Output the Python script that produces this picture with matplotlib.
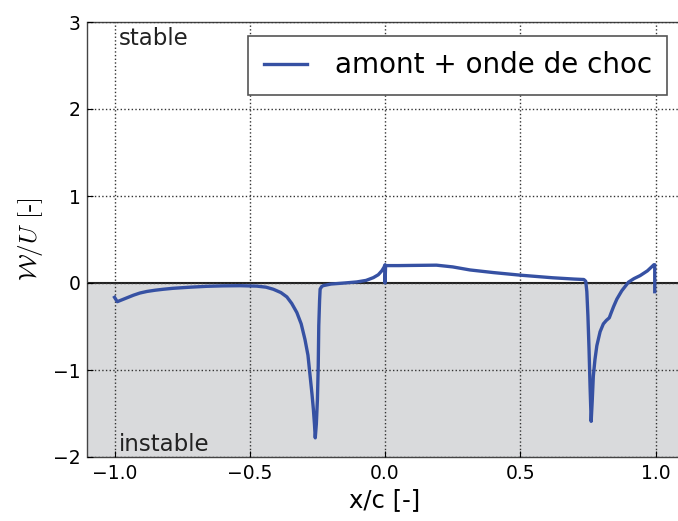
import matplotlib
matplotlib.use("Agg")
import matplotlib.pyplot as plt

plt.rcParams['mathtext.fontset'] = 'cm'
plt.rcParams['font.family'] = ['DejaVu Sans']

# Data
x_vals = [-1.0, -1.0, -0.99, -0.97, -0.95, -0.93, -0.906, -0.88, -0.85, -0.82, -0.784, -0.72,
          -0.659, -0.6, -0.536, -0.474, -0.44, -0.413, -0.385, -0.363, -0.345, -0.326, -0.31,
          -0.296, -0.285, -0.277, -0.27, -0.265, -0.261, -0.258, -0.254, -0.250, -0.247,
          -0.245, -0.242, -0.240, -0.234, -0.228, -0.2, -0.15, -0.105, -0.07, -0.043,
          -0.025, -0.012, -0.004, 0.0, 0.0, 0.002, 0.05, 0.1, 0.19, 0.25, 0.314, 0.4, 0.5,
          0.62, 0.70, 0.735, 0.742, 0.746, 0.750, 0.754, 0.758, 0.762, 0.766, 0.770, 0.776,
          0.783, 0.795, 0.807, 0.818, 0.829, 0.835, 0.845, 0.857, 0.875, 0.90, 0.92, 0.943,
          0.97, 0.994, 0.997, 0.997]
y_vals = [-0.165, -0.165, -0.215, -0.19, -0.165, -0.14, -0.115, -0.097, -0.083, -0.072,
          -0.061, -0.048, -0.038, -0.033, -0.031, -0.036, -0.048, -0.072, -0.11, -0.160,
          -0.235, -0.34, -0.47, -0.65, -0.83, -1.07, -1.28, -1.45, -1.62, -1.78, -1.62,
          -1.34, -0.95, -0.49, -0.2, -0.07, -0.04, -0.03, -0.012, 0.0, 0.012, 0.03, 0.062,
          0.095, 0.14, 0.18, 0.21, 0.0, 0.2, 0.2, 0.202, 0.205, 0.185, 0.15, 0.12, 0.09,
          0.06, 0.045, 0.04, 0.02, -0.1, -0.38, -0.75, -1.2, -1.59, -1.35, -1.07, -0.88,
          -0.72, -0.56, -0.47, -0.43, -0.40, -0.35, -0.27, -0.185, -0.09, 0.01, 0.05, 0.085,
          0.14, 0.21, 0.21, -0.1]

x_ticks = [-1.0, -0.5, 0.0, 0.5, 1.0]
y_ticks = [-2, -1, 0, 1, 2, 3]
line_label = "amont + onde de choc"

fig = plt.figure(figsize=(6.78, 5.21), dpi=100)
ax = fig.add_axes([87.5 / 678, 64 / 521, 595.1 / 678, 435 / 521])

ax.axhspan(-2, 0, color='#d9dadc', zorder=0, lw=0)
ax.axhline(0, color='#222222', lw=1.5, zorder=1)
ax.plot(x_vals, y_vals, color='#3651a3', lw=2.4, label=line_label, zorder=3,
        solid_joinstyle='round')

ax.set_xlim(-1.1, 1.1)
ax.set_ylim(-2, 3)
ax.set_xticks(x_ticks)
ax.set_yticks(y_ticks)
ax.grid(True, color='#333333', linestyle=':', lw=1.0)
ax.set_axisbelow(False)
ax.tick_params(direction='in', length=4, labelsize=13.5, pad=5)
for s in ax.spines.values():
    s.set_color('#444444')
    s.set_linewidth(1.0)

ax.set_xlabel("x/c [-]", fontsize=17.5, labelpad=4)
ax.set_ylabel(r"$\mathcal{W}/U$ [-]", fontsize=18, labelpad=6, fontfamily='cmr10')

ax.text(-0.985, 2.94, "stable", fontsize=16.5, color='#222222', va='top', ha='left')
ax.text(-0.985, -1.99, "instable", fontsize=16.5, color='#222222', va='bottom', ha='left')

leg = ax.legend(loc='upper right', bbox_to_anchor=(667 / 678, 1 - 36 / 521),
                bbox_transform=fig.transFigure, borderaxespad=0, fontsize=20,
                handlelength=1.55, handletextpad=1.0, borderpad=0.55, fancybox=False,
                framealpha=1.0)
leg.get_frame().set_edgecolor('#555555')
leg.get_frame().set_linewidth(1.2)

fig.savefig("out.png", dpi=100)
